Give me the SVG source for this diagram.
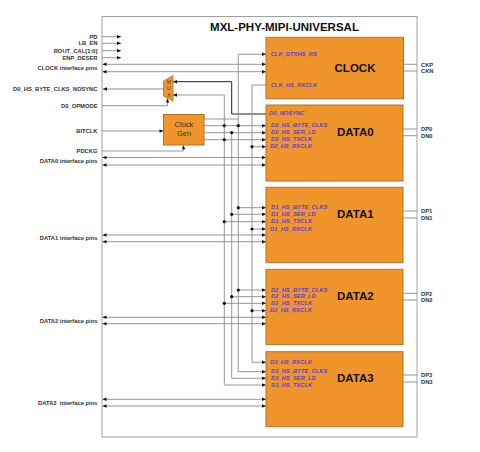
<svg xmlns="http://www.w3.org/2000/svg" width="480" height="452" viewBox="0 0 480 452">
<style>
.blk{fill:#F0952B;stroke:#b0712a;stroke-width:1}
.ttl{font-family:"Liberation Sans",Arial,sans-serif;font-weight:bold;font-size:11.5px;fill:#111;text-anchor:middle}
.sig{font-family:"Liberation Sans",Arial,sans-serif;font-weight:bold;font-style:italic;font-size:5.8px;fill:#5B3FD6}
.lbl{font-family:"Liberation Sans",Arial,sans-serif;font-weight:bold;font-size:5.8px;fill:#333;text-anchor:end}
.pin{font-family:"Liberation Sans",Arial,sans-serif;font-weight:bold;font-size:5.8px;fill:#333}
.w{fill:none;stroke:#8a8a8a;stroke-width:0.9}
.wd{fill:none;stroke:#222;stroke-width:1}
.wl{fill:none;stroke:#c4c4c4;stroke-width:2}
.a{marker-end:url(#ah)}
.b{marker-start:url(#ah);marker-end:url(#ah)}
.dot{fill:#111}
</style>
<defs>
<marker id="ah" viewBox="0 0 6 6" refX="6" refY="3" markerWidth="4.5" markerHeight="4" markerUnits="userSpaceOnUse" orient="auto-start-reverse"><path d="M0,0.4 L6,3 L0,5.6 z" fill="#111"/></marker>
</defs>
<rect x="0" y="0" width="480" height="452" fill="#fff"/>
<g id="frame">
<rect x="102" y="16.5" width="315" height="420.5" fill="#fff" stroke="#a0a0a0" stroke-width="1"/>
<text class="ttl" x="284.5" y="31">MXL-PHY-MIPI-UNIVERSAL</text>
</g>
<g id="connectors">
<!-- control inputs -->
<line class="w a" x1="102" y1="36.7" x2="121" y2="36.7"/>
<line class="w a" x1="102" y1="43.3" x2="121" y2="43.3"/>
<line class="w a" x1="102" y1="50.7" x2="121" y2="50.7"/>
<line class="w a" x1="102" y1="57.7" x2="121" y2="57.7"/>
<!-- clock interface -->
<line class="w b" x1="102.5" y1="64.3" x2="266" y2="64.3"/>
<line class="w b" x1="102.5" y1="71.7" x2="266" y2="71.7"/>
<!-- mux output -->
<line class="wl a" x1="163.5" y1="89" x2="103" y2="89"/>
<!-- D0_OPMODE -->
<polyline class="w a" points="102,105.7 167.5,105.7 167.5,98.5"/>
<!-- BITCLK -->
<line class="w a" x1="102" y1="131" x2="163.5" y2="131"/>
<!-- PDCKG -->
<polyline class="w a" points="102,151 183.5,151 183.5,145.3"/>
<!-- D0_NOSYNC -->
<polyline class="wd a" points="266,114 231.7,114 231.7,81.7 173,81.7"/>
<!-- mux byte input / TX bus -->
<polyline class="w a" points="224.3,385 224.3,95 173,95"/>
<!-- byte bus to CLK_DTXHS_RS -->
<polyline class="w a" points="238.3,371.7 238.3,54.3 266,54.3"/>
<!-- RX bus from CLK_HS_RXCLK -->
<polyline class="w" points="266,85 252,85 252,362.3"/>
<!-- SER bus -->
<line class="w" x1="231.7" y1="132.7" x2="231.7" y2="378.3"/>
<!-- clock gen outputs -->
<line class="w" x1="204" y1="119" x2="238.3" y2="119"/>
<line class="w a" x1="204" y1="125.7" x2="266" y2="125.7"/>
<line class="w a" x1="204" y1="132.7" x2="266" y2="132.7"/>
<line class="w a" x1="204" y1="139.7" x2="266" y2="139.7"/>
<line class="w a" x1="252" y1="146.7" x2="266" y2="146.7"/>
<!-- DATA0 interface -->
<line class="w b" x1="102.5" y1="157.5" x2="266" y2="157.5"/>
<line class="w b" x1="102.5" y1="165" x2="266" y2="165"/>
<!-- DATA1 -->
<line class="w a" x1="238.3" y1="207.7" x2="266" y2="207.7"/>
<line class="w a" x1="231.7" y1="214.3" x2="266" y2="214.3"/>
<line class="w a" x1="224.3" y1="221.7" x2="266" y2="221.7"/>
<line class="w a" x1="252" y1="229" x2="266" y2="229"/>
<line class="w b" x1="102.5" y1="235" x2="266" y2="235"/>
<line class="w b" x1="102.5" y1="241.7" x2="266" y2="241.7"/>
<!-- DATA2 -->
<line class="w a" x1="238.3" y1="290" x2="266" y2="290"/>
<line class="w a" x1="231.7" y1="296.7" x2="266" y2="296.7"/>
<line class="w a" x1="224.3" y1="303.3" x2="266" y2="303.3"/>
<line class="w a" x1="252" y1="310.7" x2="266" y2="310.7"/>
<line class="w b" x1="102.5" y1="317.3" x2="266" y2="317.3"/>
<line class="w b" x1="102.5" y1="323.7" x2="266" y2="323.7"/>
<!-- DATA3 -->
<line class="w a" x1="252" y1="362.3" x2="266" y2="362.3"/>
<line class="w a" x1="238.3" y1="371.7" x2="266" y2="371.7"/>
<line class="w a" x1="231.7" y1="378.3" x2="266" y2="378.3"/>
<line class="w a" x1="224.3" y1="385" x2="266" y2="385"/>
<line class="w b" x1="102.5" y1="399.3" x2="266" y2="399.3"/>
<line class="w b" x1="102.5" y1="406" x2="266" y2="406"/>
<!-- right pins -->
<line class="w" x1="404" y1="64.3" x2="417" y2="64.3"/>
<line class="w" x1="404" y1="71" x2="417" y2="71"/>
<line class="w" x1="403" y1="129" x2="417" y2="129"/>
<line class="w" x1="403" y1="135.7" x2="417" y2="135.7"/>
<line class="w" x1="403" y1="211" x2="417" y2="211"/>
<line class="w" x1="403" y1="218" x2="417" y2="218"/>
<line class="w" x1="403" y1="293.3" x2="417" y2="293.3"/>
<line class="w" x1="403" y1="300" x2="417" y2="300"/>
<line class="w" x1="403" y1="375" x2="417" y2="375"/>
<line class="w" x1="403" y1="382" x2="417" y2="382"/>
<!-- junction dots -->
<circle class="dot" cx="224.3" cy="125.7" r="1.6"/>
<circle class="dot" cx="238.3" cy="125.7" r="1.6"/>
<circle class="dot" cx="231.7" cy="132.7" r="1.6"/>
<circle class="dot" cx="224.3" cy="139.7" r="1.6"/>
<circle class="dot" cx="252" cy="146.7" r="1.6"/>
<circle class="dot" cx="238.3" cy="207.7" r="1.6"/>
<circle class="dot" cx="231.7" cy="214.3" r="1.6"/>
<circle class="dot" cx="224.3" cy="221.7" r="1.6"/>
<circle class="dot" cx="252" cy="229" r="1.6"/>
<circle class="dot" cx="238.3" cy="290" r="1.6"/>
<circle class="dot" cx="231.7" cy="296.7" r="1.6"/>
<circle class="dot" cx="224.3" cy="303.3" r="1.6"/>
<circle class="dot" cx="252" cy="310.7" r="1.6"/>
</g>
<g id="left-labels">
<text class="lbl" x="97.5" y="38.8">PD</text>
<text class="lbl" x="97.5" y="45.4">LB_EN</text>
<text class="lbl" x="97.5" y="52.8">ROUT_CAL[1:0]</text>
<text class="lbl" x="97.5" y="59.8">ENP_DESER</text>
<text class="lbl" x="97.5" y="70">CLOCK interface pins</text>
<text class="lbl" x="97.5" y="91">D0_HS_BYTE_CLKS_NOSYNC</text>
<text class="lbl" x="97.5" y="107.8">D0_OPMODE</text>
<text class="lbl" x="97.5" y="133">BITCLK</text>
<text class="lbl" x="97.5" y="153">PDCKG</text>
<text class="lbl" x="97.5" y="163.3">DATA0 interface pins</text>
<text class="lbl" x="97.5" y="240.3">DATA1 interface pins</text>
<text class="lbl" x="97.5" y="322.5">DATA2 interface pins</text>
<text class="lbl" x="97.5" y="404.5" xml:space="preserve">DATA3  interface pins</text>
</g>
<g id="mux">
<polygon points="163.5,81 173,75.5 173,101 163.5,96" fill="#F0952B" stroke="#b0712a" stroke-width="0.8"/>
<text x="168.8" y="83.5" font-family="Liberation Sans,Arial,sans-serif" font-size="5" fill="#333" text-anchor="middle">M</text>
<text x="168.8" y="90.2" font-family="Liberation Sans,Arial,sans-serif" font-size="5" fill="#333" text-anchor="middle">U</text>
<text x="168.8" y="96.8" font-family="Liberation Sans,Arial,sans-serif" font-size="5" fill="#333" text-anchor="middle">X</text>
</g>
<g id="clockgen">
<rect x="163.5" y="114.5" width="40.5" height="30.5" class="blk"/>
<text x="184" y="127" font-family="Liberation Sans,Arial,sans-serif" font-size="7.5" fill="#333" text-anchor="middle">Clock</text>
<text x="184" y="136" font-family="Liberation Sans,Arial,sans-serif" font-size="7.5" fill="#333" text-anchor="middle">Gen</text>
</g>
<g id="clock">
<rect x="266" y="37.3" width="137.5" height="61.5" class="blk"/>
<text class="ttl" x="355" y="71.7">CLOCK</text>
<text class="sig" x="270.7" y="55.8">CLK_DTXHS_RS</text>
<text class="sig" x="270.7" y="87">CLK_HS_RXCLK</text>
<text class="pin" x="421" y="66.5">CKP</text>
<text class="pin" x="421" y="73.3">CKN</text>
</g>
<g id="data0">
<rect x="266" y="105" width="137" height="76" class="blk"/>
<text class="ttl" x="355.3" y="136">DATA0</text>
<text class="sig" x="269" y="115.4">D0_NOSYNC</text>
<text class="sig" x="271" y="127.3">D0_HS_BYTE_CLKS</text>
<text class="sig" x="271" y="134.3">D0_HS_SER_LD</text>
<text class="sig" x="271" y="141.3">D0_HS_TXCLK</text>
<text class="sig" x="270" y="148.3">D0_HS_RXCLK</text>
<text class="pin" x="421" y="131.2">DP0</text>
<text class="pin" x="421" y="137.9">DN0</text>
</g>
<g id="data1">
<rect x="266" y="187.3" width="137" height="75.4" class="blk"/>
<text class="ttl" x="355.3" y="217.7">DATA1</text>
<text class="sig" x="271" y="209.3">D1_HS_BYTE_CLKS</text>
<text class="sig" x="271" y="215.9">D1_HS_SER_LD</text>
<text class="sig" x="271" y="223.3">D1_HS_TXCLK</text>
<text class="sig" x="270" y="230.6">D1_HS_RXCLK</text>
<text class="pin" x="421" y="213.2">DP1</text>
<text class="pin" x="421" y="220.2">DN1</text>
</g>
<g id="data2">
<rect x="266" y="269.3" width="137" height="75.4" class="blk"/>
<text class="ttl" x="355.3" y="300">DATA2</text>
<text class="sig" x="271" y="291.6">D2_HS_BYTE_CLKS</text>
<text class="sig" x="271" y="298.3">D2_HS_SER_LD</text>
<text class="sig" x="271" y="304.9">D2_HS_TXCLK</text>
<text class="sig" x="270" y="312.3">D2_HS_RXCLK</text>
<text class="pin" x="421" y="295.5">DP2</text>
<text class="pin" x="421" y="302.2">DN2</text>
</g>
<g id="data3">
<rect x="266" y="351.7" width="137" height="75" class="blk"/>
<text class="ttl" x="355.3" y="382.3">DATA3</text>
<text class="sig" x="270" y="363.9">D3_HS_RXCLK</text>
<text class="sig" x="271" y="373.3">D3_HS_BYTE_CLKS</text>
<text class="sig" x="271" y="379.9">D3_HS_SER_LD</text>
<text class="sig" x="271" y="386.6">D3_HS_TXCLK</text>
<text class="pin" x="421" y="377.2">DP3</text>
<text class="pin" x="421" y="384.2">DN3</text>
</g>
</svg>
